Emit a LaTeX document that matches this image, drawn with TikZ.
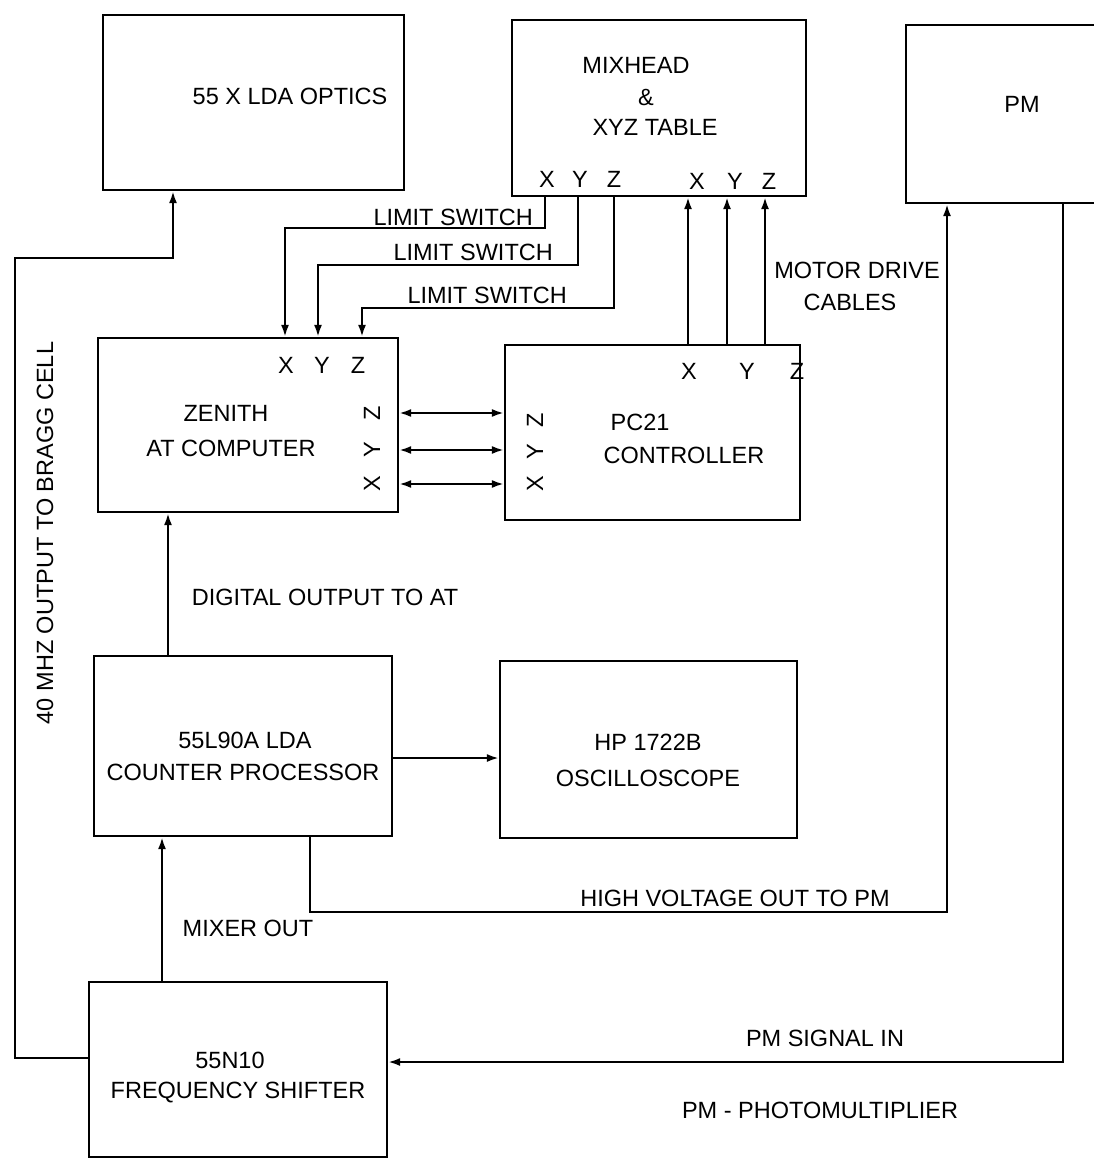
\documentclass[tikz,border=0pt]{standalone}
\usepackage{fontspec}
\setmainfont{Liberation Sans}
\usetikzlibrary{arrows.meta}
\begin{document}
\begin{tikzpicture}[x=1pt,y=-1pt,
  box/.style={draw,line width=2.2pt,inner sep=0pt},
  txt/.style={inner sep=0pt,font=\fontsize{23.5}{28}\selectfont},
  ln/.style={line width=2.2pt},
  arr/.style={line width=2.2pt,-{Latex[length=12pt,width=8pt]}},
  arrb/.style={line width=2.2pt,{Latex[length=12pt,width=8pt]}-{Latex[length=12pt,width=8pt]}}]
\useasboundingbox[fill=white] (0,0) rectangle (1093,1161);
% boxes
\node[box,minimum width=301pt,minimum height=175pt] (opt) at (253.5,102.5) {};
\node[box,minimum width=294pt,minimum height=176pt] (mix) at (659,108) {};
\node[box,minimum width=194pt,minimum height=178pt] (pm) at (1003,114) {};
\node[box,minimum width=300pt,minimum height=174pt] (zen) at (248,425) {};
\node[box,minimum width=295pt,minimum height=175pt] (pc) at (652.5,432.5) {};
\node[box,minimum width=298pt,minimum height=180pt] (cp) at (243,746) {};
\node[box,minimum width=297pt,minimum height=177pt] (osc) at (648.5,749.5) {};
\node[box,minimum width=298pt,minimum height=175pt] (fs) at (238,1069.5) {};
% box texts
\node[txt] (toptics) at (290,96) {55 X LDA OPTICS};
\node[txt] (tmix1) at (636,65) {MIXHEAD};
\node[txt] (tmix2) at (646,97) {\&};
\node[txt] (tmix3) at (655,127) {XYZ TABLE};
\node[txt] (tpm) at (1022,104) {PM};
\node[txt] (tzen1) at (226,413) {ZENITH};
\node[txt] (tzen2) at (231,448) {AT COMPUTER};
\node[txt] (tpc1) at (640,422) {PC21};
\node[txt] (tpc2) at (684,455) {CONTROLLER};
\node[txt] (tcp1) at (245,740) {55L90A LDA};
\node[txt] (tcp2) at (243,772) {COUNTER PROCESSOR};
\node[txt] (tosc1) at (648,742) {HP 1722B};
\node[txt] (tosc2) at (648,778) {OSCILLOSCOPE};
\node[txt] (tfs1) at (230,1060) {55N10};
\node[txt] (tfs2) at (238,1093) {FREQUENCY SHIFTER};
% port letters
\node[txt] (mxa) at (547,179) {X};
\node[txt] (mya) at (580,179) {Y};
\node[txt] (mza) at (614,179) {Z};
\node[txt] (mxb) at (697,181) {X};
\node[txt] (myb) at (735,181) {Y};
\node[txt] (mzb) at (769,181) {Z};
\node[txt] (zx) at (286,365) {X};
\node[txt] (zy) at (322,365) {Y};
\node[txt] (zz) at (358,365) {Z};
\node[txt,rotate=90] (zrz) at (372,413) {Z};
\node[txt,rotate=90] (zry) at (372,450) {Y};
\node[txt,rotate=90] (zrx) at (372,484) {X};
\node[txt] (px) at (689,371) {X};
\node[txt] (py) at (747,371) {Y};
\node[txt] (pz) at (797,371) {Z};
\node[txt,rotate=90] (prz) at (535,420) {Z};
\node[txt,rotate=90] (pry) at (535,452) {Y};
\node[txt,rotate=90] (prx) at (535,484) {X};
% connector labels
\node[txt,anchor=east] (ls1) at (533,217) {LIMIT SWITCH};
\node[txt,anchor=east] (ls2) at (553,252) {LIMIT SWITCH};
\node[txt,anchor=east] (ls3) at (567,295) {LIMIT SWITCH};
\node[txt] (md1) at (857,270) {MOTOR DRIVE};
\node[txt] (md2) at (850,302) {CABLES};
\node[txt] (dig) at (325,597) {DIGITAL OUTPUT TO AT};
\node[txt] (hvl) at (735,898) {HIGH VOLTAGE OUT TO PM};
\node[txt] (mixo) at (248,928) {MIXER OUT};
\node[txt] (pmsig) at (825,1038) {PM SIGNAL IN};
\node[txt] (pmleg) at (820,1110) {PM - PHOTOMULTIPLIER};
\node[txt,rotate=90] (bragg) at (45,533) {40 MHZ OUTPUT TO BRAGG CELL};
% bend coordinates
\coordinate (b1) at (15,1058);
\coordinate (b2) at (15,258);
\coordinate (b3) at (173,258);
\coordinate (dx) at (168,0);
\coordinate (mo) at (162,0);
\coordinate (hv1) at (310,912);
\coordinate (hv2) at (947,912);
\coordinate (ps1) at (1063,1062);
\coordinate (l1) at (545,228);
\coordinate (l2) at (578,265);
\coordinate (l3) at (614,308);
\coordinate (m1) at (688,0);
\coordinate (m2) at (727,0);
\coordinate (m3) at (765,0);
% connectors
\draw[arr] (b1 -| fs.west) -- (b1) -- (b2) -- (b3) -- (b3 |- opt.south);
\draw[arr] (dx |- cp.north) -- (dx |- zen.south);
\draw[arr] (mo |- fs.north) -- (mo |- cp.south);
\draw[arr] ([yshift=-12pt]cp.east) -- ([yshift=-12pt]cp.east -| osc.west);
\draw[arr] (hv1 |- cp.south) -- (hv1) -- (hv2) -- (hv2 |- pm.south);
\draw[arr] (ps1 |- pm.south) -- (ps1) -- (ps1 -| fs.east);
\draw[arr] (l1 |- mix.south) -- (l1) -| ([xshift=-1pt]zx.north |- zen.north);
\draw[arr] (l2 |- mix.south) -- (l2) -| ([xshift=-4pt]zy.north |- zen.north);
\draw[arr] (l3 |- mix.south) -- (l3) -| ([xshift=4pt]zz.north |- zen.north);
\draw[arr] (m1 |- pc.north) -- (m1 |- mix.south);
\draw[arr] (m2 |- pc.north) -- (m2 |- mix.south);
\draw[arr] (m3 |- pc.north) -- (m3 |- mix.south);
\draw[arrb] (zen.east |- zrz) -- (pc.west |- zrz);
\draw[arrb] (zen.east |- zry) -- (pc.west |- zry);
\draw[arrb] (zen.east |- zrx) -- (pc.west |- zrx);
\end{tikzpicture}
\end{document}
